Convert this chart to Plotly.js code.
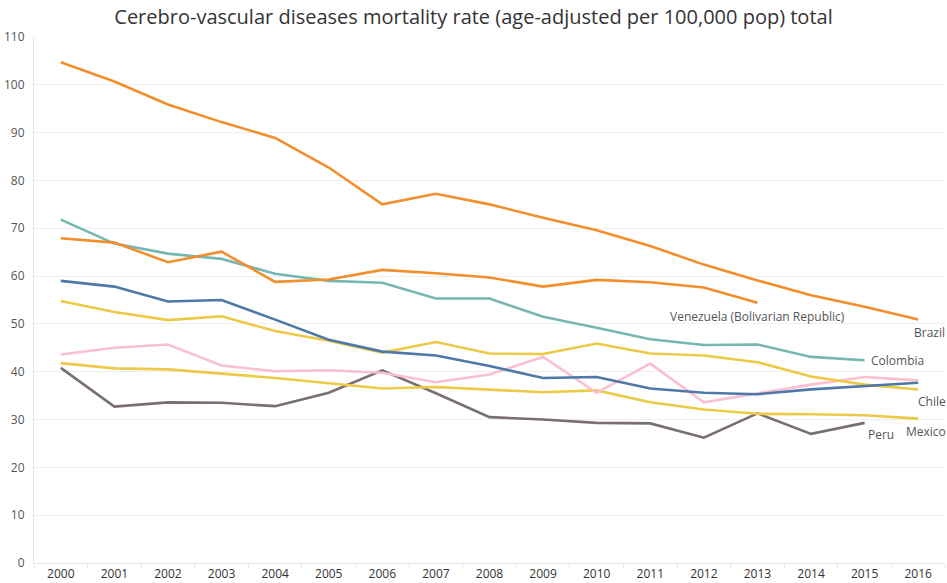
<!DOCTYPE html>
<html>
<head>
<meta charset="utf-8">
<script src="https://cdn.plot.ly/plotly-3.0.1.min.js"></script>
<style>html,body{margin:0;padding:0;background:#fff;}#chart{width:947px;height:583px;}</style>
</head>
<body>
<div id="chart"></div>
<script>
var years = ["2000","2001","2002","2003","2004","2005","2006","2007","2008","2009","2010","2011","2012","2013","2014","2015","2016"];

var brazil    = [104.7,100.7,95.9,92.2,88.9,82.7,75.0,77.2,75.0,72.2,69.6,66.3,62.4,59.1,56.0,53.6,50.9];
var venezuela = [67.9,67.0,62.9,65.1,58.8,59.3,61.3,60.6,59.7,57.8,59.2,58.7,57.6,54.4];
var colombia  = [71.8,66.8,64.7,63.6,60.5,59.0,58.6,55.3,55.3,51.5,49.2,46.8,45.6,45.7,43.1,42.4];
var blueSeries = [59.0,57.8,54.7,55.0,50.9,46.7,44.2,43.4,41.2,38.7,38.9,36.5,35.6,35.3,36.3,37.0,37.7];
var chile     = [54.8,52.5,50.8,51.6,48.5,46.5,44.0,46.2,43.8,43.7,45.9,43.8,43.4,42.0,39.0,37.3,36.3];
var pinkSeries = [43.6,45.0,45.7,41.3,40.1,40.3,39.8,37.8,39.4,43.1,35.6,41.7,33.6,35.5,37.3,38.9,38.2];
var mexico    = [41.8,40.7,40.5,39.6,38.7,37.6,36.5,36.8,36.3,35.7,36.1,33.6,32.1,31.2,31.1,30.9,30.2];
var peru      = [40.8,32.7,33.6,33.5,32.8,35.6,40.3,35.5,30.5,30.0,29.3,29.2,26.2,31.3,27.0,29.3];

var series = [
  {name:"Peru", y:peru, color:"#79706E"},
  {name:"Mexico", y:mexico, color:"#EDC948"},
  {name:"Unlabeled (pink)", y:pinkSeries, color:"#FABFD2"},
  {name:"Chile", y:chile, color:"#EDC948"},
  {name:"Unlabeled (blue)", y:blueSeries, color:"#4E79A7"},
  {name:"Colombia", y:colombia, color:"#76B7B2"},
  {name:"Venezuela (Bolivarian Republic)", y:venezuela, color:"#F28E2B"},
  {name:"Brazil", y:brazil, color:"#F28E2B"}
];

var traces = series.map(function(s){
  return {
    type:"scatter", mode:"lines", name:s.name,
    x: years.slice(0, s.y.length), y: s.y,
    line:{color:s.color, width:2.6},
    hoverinfo:"x+y+name"
  };
});

// end-of-line labels, anchored at each series' last point (category index on x)
var labelSpecs = [
  {s:venezuela, text:"Venezuela (Bolivarian Republic)", xanchor:"center", xs:0, ys:-14},
  {s:brazil, text:"Brazil", xanchor:"left", xs:-6, ys:-13},
  {s:colombia, text:"Colombia", xanchor:"left", xs:4, ys:0},
  {s:chile, text:"Chile", xanchor:"left", xs:-2, ys:-12},
  {s:mexico, text:"Mexico", xanchor:"left", xs:-14, ys:-13},
  {s:peru, text:"Peru", xanchor:"left", xs:1, ys:-12}
];
var annotations = labelSpecs.map(function(l){
  var i = l.s.length - 1;
  return {
    x: i, y: l.s[i], xref:"x", yref:"y",
    text: l.text, showarrow:false, xanchor:l.xanchor, yanchor:"middle",
    xshift:l.xs, yshift:l.ys,
    font:{family:"Open Sans, Noto Sans, sans-serif", size:12, color:"#555555"}
  };
});

var layout = {
  width:947, height:583,
  paper_bgcolor:"#ffffff", plot_bgcolor:"#ffffff",
  margin:{l:34, r:2, t:37, b:20, pad:0},
  showlegend:false,
  title:{text:"Cerebro-vascular diseases mortality rate (age-adjusted per 100,000 pop) total",
         x:0.5, xanchor:"center", y:0.97, yanchor:"middle", yref:"container",
         font:{family:"Open Sans, Noto Sans, sans-serif", size:20, color:"#333333"}},
  xaxis:{type:"category", range:[-0.5,16.5], showgrid:false, zeroline:false,
         showline:true, linecolor:"#e6e6e6", linewidth:1,
         ticks:"outside", tickson:"boundaries", ticklen:5, tickcolor:"#e6e6e6",
         tickfont:{family:"Open Sans, Noto Sans, sans-serif", size:12, color:"#333333"},
         automargin:false, fixedrange:true},
  yaxis:{range:[0,110], tickvals:[0,10,20,30,40,50,60,70,80,90,100,110],
         showgrid:true, gridcolor:"#efefef", gridwidth:1, zeroline:false,
         showline:true, linecolor:"#e6e6e6", linewidth:1, ticks:"",
         ticklabelstandoff:6,
         tickfont:{family:"Open Sans, Noto Sans, sans-serif", size:12, color:"#555555"},
         automargin:false, fixedrange:true},
  annotations:annotations
};

Plotly.newPlot("chart", traces, layout, {displayModeBar:false, staticPlot:true});
</script>
</body>
</html>
